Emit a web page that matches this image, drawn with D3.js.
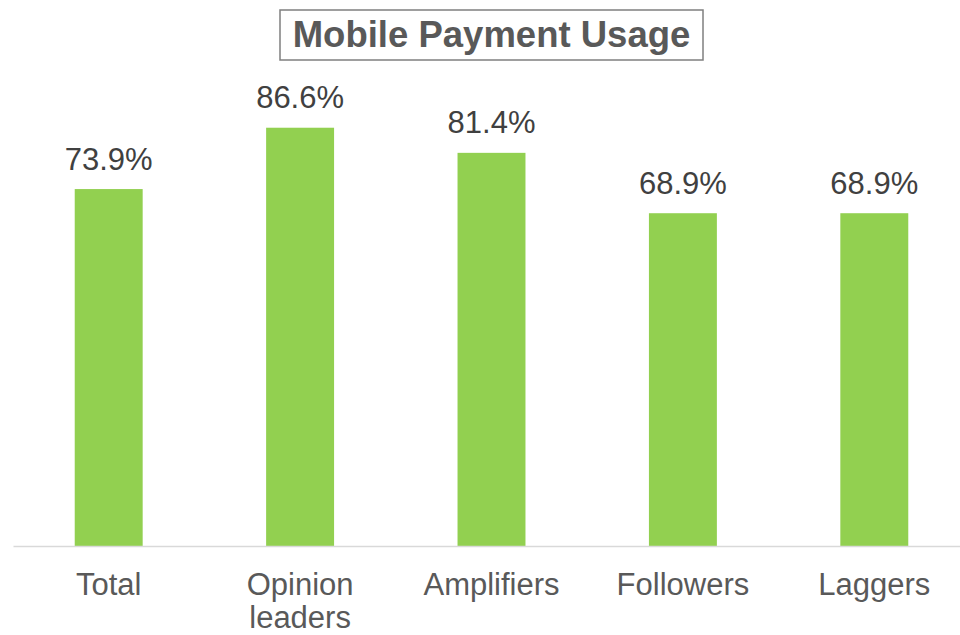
<!DOCTYPE html>
<html>
<head>
<meta charset="utf-8">
<script src="https://cdn.jsdelivr.net/npm/d3@7"></script>
<style>
  html, body { margin: 0; padding: 0; background: #ffffff; }
  svg { display: block; font-family: "Liberation Sans", Arial, sans-serif; }
</style>
</head>
<body>
<svg id="chart" width="960" height="635"></svg>
<script>
// Chart content
const chartTitle = "Mobile Payment Usage";
const categories = ["Total", "Opinion leaders", "Amplifiers", "Followers", "Laggers"];
const categoryLines = [["Total"], ["Opinion", "leaders"], ["Amplifiers"], ["Followers"], ["Laggers"]];
const usageValues = [73.9, 86.6, 81.4, 68.9, 68.9];
const valueLabels = ["73.9%", "86.6%", "81.4%", "68.9%", "68.9%"];

const svg = d3.select("#chart");

const x = d3.scaleBand()
  .domain(categories)
  .range([13, 970])
  .paddingInner(0.645)
  .paddingOuter(0.3225);

const y = d3.scaleLinear()
  .domain([0, 100])
  .range([546, 63]);

// Bars
svg.append("g")
  .selectAll("rect")
  .data(usageValues)
  .join("rect")
  .attr("x", (d, i) => x(categories[i]))
  .attr("y", d => y(d))
  .attr("width", x.bandwidth())
  .attr("height", d => y(0) - y(d))
  .attr("fill", "#92d050");

// Baseline axis
const xAxis = d3.axisBottom(x).tickSize(0).tickFormat("");
const axisG = svg.append("g")
  .attr("transform", `translate(0,${y(0)})`)
  .call(xAxis);
axisG.select(".domain").attr("stroke", "#d9d9d9").attr("stroke-width", 1.5);

// Category labels (wrapped)
const catG = svg.append("g");
categoryLines.forEach((lines, i) => {
  const cx = x(categories[i]) + x.bandwidth() / 2;
  const t = catG.append("text")
    .attr("x", cx)
    .attr("y", 595)
    .attr("text-anchor", "middle")
    .attr("font-size", 31)
    .attr("fill", "#595959");
  lines.forEach((ln, j) => {
    t.append("tspan")
      .attr("x", cx)
      .attr("dy", j === 0 ? 0 : 33)
      .text(ln);
  });
});

// Value labels
svg.append("g")
  .selectAll("text")
  .data(usageValues)
  .join("text")
  .attr("x", (d, i) => x(categories[i]) + x.bandwidth() / 2)
  .attr("y", d => y(d) - 19.5)
  .attr("text-anchor", "middle")
  .attr("font-size", 31)
  .attr("fill", "#404040")
  .text((d, i) => valueLabels[i]);

// Boxed title
const titleG = svg.append("g");
titleG.append("rect")
  .attr("x", 280)
  .attr("y", 10)
  .attr("width", 423)
  .attr("height", 50)
  .attr("fill", "#ffffff")
  .attr("stroke", "#7f7f7f")
  .attr("stroke-width", 1.5);
titleG.append("text")
  .attr("x", 491.5)
  .attr("y", 46.5)
  .attr("text-anchor", "middle")
  .attr("font-size", 36.5)
  .attr("font-weight", "bold")
  .attr("fill", "#595959")
  .text(chartTitle);
</script>
</body>
</html>
